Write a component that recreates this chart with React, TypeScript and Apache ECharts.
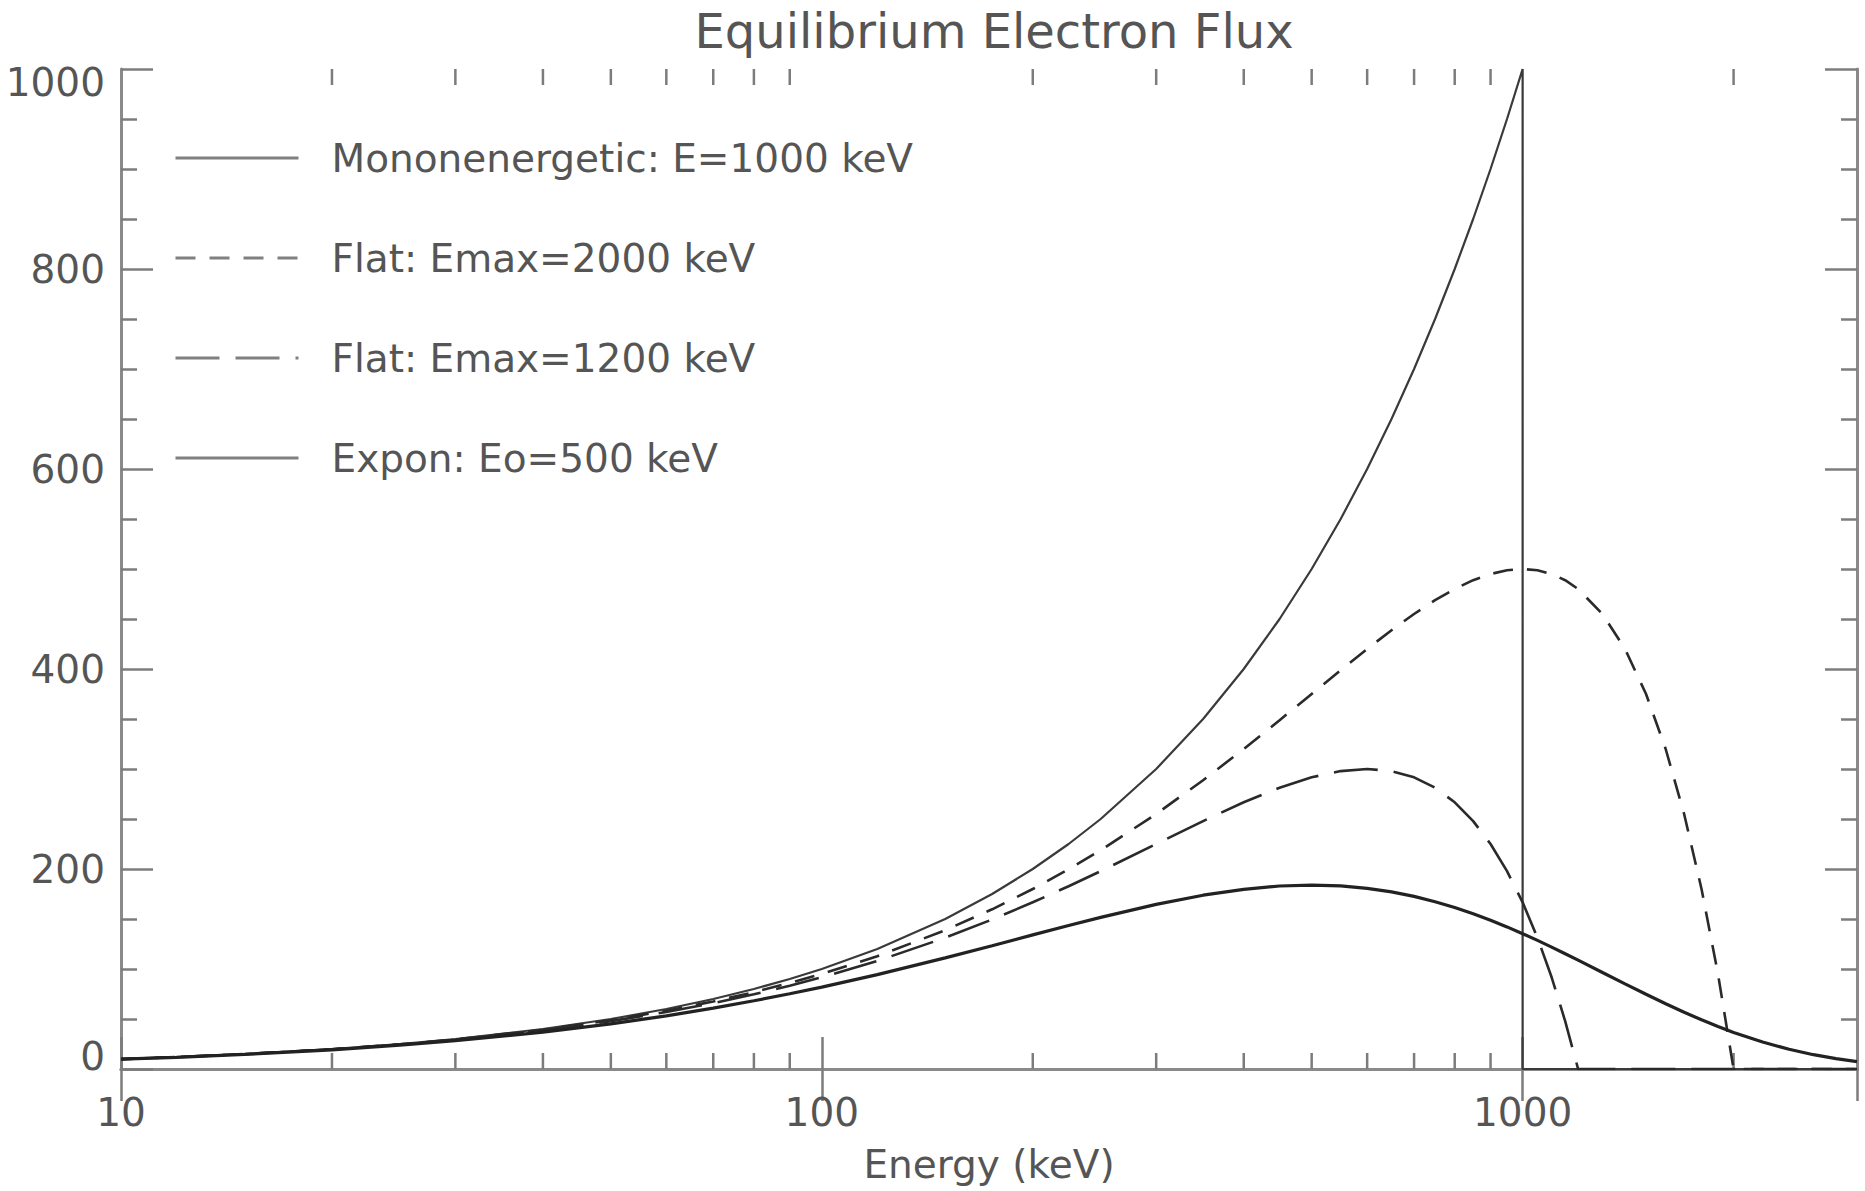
import React, { useEffect, useRef } from "react";
import * as echarts from "echarts";

// ---- Data ----
const energies = [
  10, 12, 15, 20, 25, 30, 40, 50, 60, 70, 80, 90, 100, 120, 150, 175, 200, 225, 250, 300, 350, 400, 450, 500,
  550, 600, 650, 700, 750, 800, 850, 900, 950, 1000, 1050, 1100, 1150, 1200, 1300, 1400, 1500, 1600, 1700, 1800,
  1900, 2000, 2200, 2400, 2600, 2800, 3000,
];

const monoEnergy = [
  10, 12, 15, 20, 25, 30, 40, 50, 60, 70, 80, 90, 100, 120, 150, 175, 200, 225, 250, 300, 350, 400, 450, 500,
  550, 600, 650, 700, 750, 800, 850, 900, 950, 1000, 1000, 3000,
];
const monoFlux = [
  10, 12, 15, 20, 25, 30, 40, 50, 60, 70, 80, 90, 100, 120, 150, 175, 200, 225, 250, 300, 350, 400, 450, 500,
  550, 600, 650, 700, 750, 800, 850, 900, 950, 1000, 0, 0,
];

const flat2000Flux = [
  9.9, 11.9, 14.9, 19.8, 24.7, 29.6, 39.2, 48.8, 58.2, 67.6, 76.8, 86.0, 95, 112.8, 138.8, 159.7, 180, 199.7,
  218.8, 255, 288.8, 320, 348.8, 375, 398.8, 420, 438.8, 455, 468.8, 480, 488.8, 495, 498.8, 500, 498.8, 495,
  488.8, 480, 455, 420, 375, 320, 255, 180, 95, 0, 0, 0, 0, 0, 0,
];

const flat1200Flux = [
  9.9, 11.9, 14.8, 19.7, 24.5, 29.3, 38.7, 47.9, 57, 65.9, 74.7, 83.3, 91.7, 108, 131.3, 149.5, 166.7, 182.8,
  197.9, 225, 247.9, 266.7, 281.3, 291.7, 297.9, 300, 297.9, 291.7, 281.3, 266.7, 247.9, 225, 197.9, 166.7,
  131.3, 91.7, 47.9, 0, 0, 0, 0, 0, 0, 0, 0, 0, 0, 0, 0, 0, 0,
];

const exponFlux = [
  9.8, 11.7, 14.6, 19.2, 23.8, 28.3, 36.9, 45.2, 53.2, 60.9, 68.2, 75.2, 81.9, 94.4, 111.1, 123.3, 134.1, 143.5,
  151.6, 164.6, 173.8, 179.7, 183.0, 183.9, 183.1, 180.7, 177.1, 172.6, 167.3, 161.5, 155.3, 148.8, 142.1, 135.3,
  128.6, 121.9, 115.3, 108.9, 96.5, 85.1, 74.7, 65.2, 56.7, 49.2, 42.5, 36.6, 27.0, 19.7, 14.3, 10.4, 7.4,
];

const seriesNames = [
  "Mononenergetic: E=1000 keV",
  "Flat: Emax=2000 keV",
  "Flat: Emax=1200 keV",
  "Expon: Eo=500 keV",
];

const xMinorTicks = [20, 30, 40, 50, 60, 70, 80, 90, 200, 300, 400, 500, 600, 700, 800, 900, 2000];
const yTickValues = [0, 200, 400, 600, 800, 1000];

const titleText = "Equilibrium Electron Flux";
const xAxisTitle = "Energy (keV)";

const FONT = "DejaVu Sans";
const TEXT_COLOR = "#555555";
const AXIS_COLOR = "#8a8a8a";
const TICK_COLOR = "#7c7c7c";

export default function App() {
  const ref = useRef<HTMLDivElement>(null);

  useEffect(() => {
    if (!ref.current) return;
    const chart = echarts.init(ref.current, undefined, { renderer: "svg" });

    const pair = (xs: number[], ys: number[]) => xs.map((x, i) => [x, ys[i]]);

    const axisLineStyle = { show: true, lineStyle: { color: AXIS_COLOR, width: 3 } };
    const tickStyle = { color: TICK_COLOR, width: 2.5 };

    const option: any = {
      animation: false,
      backgroundColor: "#ffffff",
      title: {
        text: titleText,
        left: 989,
        top: 2,
        textAlign: "center",
        textStyle: { fontFamily: FONT, fontSize: 48, fontWeight: "normal", color: TEXT_COLOR },
      },
      legend: {
        orient: "vertical",
        left: 169,
        top: 133,
        itemWidth: 123,
        itemHeight: 14,
        itemGap: 60,
        selectedMode: false,
        data: seriesNames,
        itemStyle: { opacity: 0, borderWidth: 0 },
        lineStyle: { color: "#808080", width: 3 },
        textStyle: {
          fontFamily: FONT,
          fontSize: 39,
          lineHeight: 40,
          color: TEXT_COLOR,
          padding: [0, 0, 0, 28],
        },
      },
      grid: { left: 121, top: 69, width: 1736, height: 1000, containLabel: false },
      xAxis: [
        {
          type: "log",
          logBase: 10,
          min: 10,
          max: 3000,
          position: "bottom",
          axisLine: axisLineStyle,
          axisTick: { show: true, inside: true, length: 32, lineStyle: tickStyle },
          splitLine: { show: false },
          name: xAxisTitle,
          nameLocation: "middle",
          nameGap: 76,
          nameTextStyle: { fontFamily: FONT, fontSize: 39, color: TEXT_COLOR },
          axisLabel: {
            show: true,
            margin: 24,
            fontFamily: FONT,
            fontSize: 39,
            color: TEXT_COLOR,
            showMaxLabel: false,
            formatter: (v: number) => (v === 10 || v === 100 || v === 1000 ? String(v) : ""),
          },
        },
        {
          type: "log",
          logBase: 10,
          min: 10,
          max: 3000,
          position: "top",
          axisLine: axisLineStyle,
          axisTick: { show: true, inside: true, length: 32, lineStyle: tickStyle },
          axisLabel: { show: false },
          splitLine: { show: false },
        },
      ],
      yAxis: [
        {
          type: "value",
          min: 0,
          max: 1000,
          interval: 200,
          position: "left",
          axisLine: axisLineStyle,
          axisTick: { show: true, inside: true, length: 32, lineStyle: tickStyle },
          minorTick: { show: true, splitNumber: 4, length: 16, lineStyle: tickStyle },
          splitLine: { show: false },
          minorSplitLine: { show: false },
          axisLabel: {
            show: true,
            margin: 16,
            fontFamily: FONT,
            fontSize: 39,
            lineHeight: 26,
            color: TEXT_COLOR,
            verticalAlignMaxLabel: "top",
            verticalAlignMinLabel: "bottom",
            formatter: (v: number) => (yTickValues.indexOf(v) >= 0 ? String(v) : ""),
          },
        },
        {
          type: "value",
          min: 0,
          max: 1000,
          interval: 200,
          position: "right",
          axisLine: axisLineStyle,
          axisTick: { show: true, inside: true, length: 32, lineStyle: tickStyle },
          minorTick: { show: true, splitNumber: 4, length: 16, lineStyle: tickStyle },
          splitLine: { show: false },
          minorSplitLine: { show: false },
          axisLabel: { show: false },
        },
      ],
      series: [
        {
          name: seriesNames[0],
          type: "line",
          xAxisIndex: 0,
          yAxisIndex: 0,
          data: pair(monoEnergy, monoFlux),
          symbol: "none",
          showSymbol: false,
          lineStyle: { color: "#3a3a3a", width: 2.2 },
          itemStyle: { color: "#3a3a3a" },
          z: 3,
        },
        {
          name: seriesNames[1],
          type: "line",
          xAxisIndex: 0,
          yAxisIndex: 0,
          data: pair(energies, flat2000Flux),
          symbol: "none",
          showSymbol: false,
          lineStyle: { color: "#2a2a2a", width: 2.6, type: [20, 14] },
          itemStyle: { color: "#2a2a2a" },
          z: 3,
        },
        {
          name: seriesNames[2],
          type: "line",
          xAxisIndex: 0,
          yAxisIndex: 0,
          data: pair(energies, flat1200Flux),
          symbol: "none",
          showSymbol: false,
          lineStyle: { color: "#2a2a2a", width: 2.6, type: [44, 16] },
          itemStyle: { color: "#2a2a2a" },
          z: 3,
        },
        {
          name: seriesNames[3],
          type: "line",
          xAxisIndex: 0,
          yAxisIndex: 0,
          data: pair(energies, exponFlux),
          symbol: "none",
          showSymbol: false,
          lineStyle: { color: "#222222", width: 3.2 },
          itemStyle: { color: "#222222" },
          z: 3,
        },
        {
          name: "xMinorTicks",
          type: "custom",
          xAxisIndex: 0,
          yAxisIndex: 0,
          silent: true,
          clip: false,
          data: xMinorTicks.map((v) => [v, 0]),
          encode: { x: 0, y: 1 },
          renderItem: (params: any, api: any) => {
            const v = api.value(0);
            const pb = api.coord([v, 0]);
            const pt = api.coord([v, 1000]);
            const st = { stroke: TICK_COLOR, lineWidth: 2.5 };
            return {
              type: "group",
              children: [
                { type: "line", shape: { x1: pb[0], y1: pb[1], x2: pb[0], y2: pb[1] - 16 }, style: st },
                { type: "line", shape: { x1: pt[0], y1: pt[1], x2: pt[0], y2: pt[1] + 16 }, style: st },
              ],
            };
          },
          z: 2,
        },
      ],
    };

    chart.setOption(option);
    return () => chart.dispose();
  }, []);

  return (
    <div
      ref={ref}
      style={{ position: "absolute", left: 0, top: 0, width: 1865, height: 1191, background: "#fff" }}
    />
  );
}
